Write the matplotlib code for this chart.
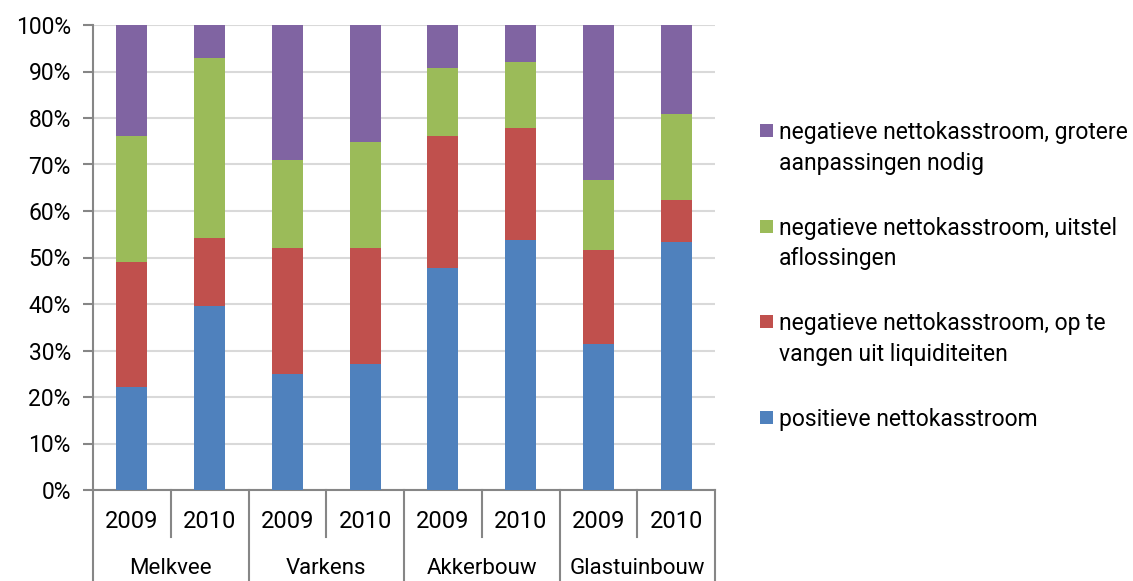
import matplotlib
matplotlib.use("Agg")
import matplotlib.pyplot as plt
import numpy as np
from matplotlib.ticker import PercentFormatter
from matplotlib.patches import Rectangle

plt.rcParams['font.family'] = ['Roboto', 'DejaVu Sans']

groups = ["Melkvee", "Varkens", "Akkerbouw", "Glastuinbouw"]
years = ["2009", "2010"]
positief = [22.1, 39.6, 25.0, 27.2, 47.7, 53.8, 31.5, 53.3]
op_te_vangen = [26.9, 14.7, 27.1, 24.9, 28.4, 24.0, 20.2, 9.0]
uitstel = [27.1, 38.5, 18.8, 22.7, 14.6, 14.2, 15.0, 18.5]
grotere = [23.9, 7.2, 29.1, 25.2, 9.3, 8.0, 33.3, 19.2]

labels = [
    "positieve nettokasstroom",
    "negatieve nettokasstroom, op te\nvangen uit liquiditeiten",
    "negatieve nettokasstroom, uitstel\naflossingen",
    "negatieve nettokasstroom, grotere\naanpassingen nodig",
]
colors = ["#4F81BD", "#C0504D", "#9BBB59", "#8064A2"]
series = [positief, op_te_vangen, uitstel, grotere]

W, H = 1133, 581
fig = plt.figure(figsize=(W/100, H/100), dpi=100)
ax = fig.add_axes([93/W, 1-490/H, (715-93)/W, (490-25)/H])

x = np.arange(len(positief))
bottom = np.zeros(len(x))
for vals, col, lab in zip(series, colors, labels):
    v = np.array(vals) / 100.0
    ax.bar(x, v, 0.4, bottom=bottom, color=col, label=lab, zorder=3)
    bottom += v

ax.set_xlim(-0.5, 7.5)
ax.set_ylim(0, 1)
ax.set_yticks(np.arange(0, 1.01, 0.1))
ax.yaxis.set_major_formatter(PercentFormatter(1.0, decimals=0))
ax.grid(axis='y', color='#d9d9d9', linewidth=1.5, zorder=0)
ax.set_xticks([])
for s in ['top', 'right']:
    ax.spines[s].set_visible(False)
for s in ['left', 'bottom']:
    ax.spines[s].set_color('#868686')
    ax.spines[s].set_linewidth(1.5)
ax.tick_params(axis='y', length=7, width=1.5, color='#868686', labelsize=16.5, pad=9)

tr = ax.get_xaxis_transform()
ah = 465.0
for i in range(len(x)):
    ax.text(i, -32/ah, years[i % 2], transform=tr, ha='center', va='center', fontsize=17)
for g, name in enumerate(groups):
    ax.text(2*g + 0.5, -79/ah, name, transform=tr, ha='center', va='center', fontsize=16)
for b in np.arange(-0.5, 8, 2):
    ax.plot([b, b], [0, -91/ah], transform=tr, color='#868686', lw=1.5, clip_on=False)
for b in np.arange(0.5, 8, 2):
    ax.plot([b, b], [0, -47/ah], transform=tr, color='#868686', lw=1.5, clip_on=False)

# legend (reverse order, marker aligned with first text line)
step = 95.7
for k, (lab, col) in enumerate(zip(labels[::-1], colors[::-1])):
    top = 124 + k * step
    fig.add_artist(Rectangle((760/W, 1-(top+13)/H), 13/W, 13/H,
                             transform=fig.transFigure, color=col, lw=0))
    fig.text(779/W, 1-(top-3)/H, lab, ha='left', va='top',
             fontsize=16.5, linespacing=1.42)

fig.savefig("out.png", dpi=100)
